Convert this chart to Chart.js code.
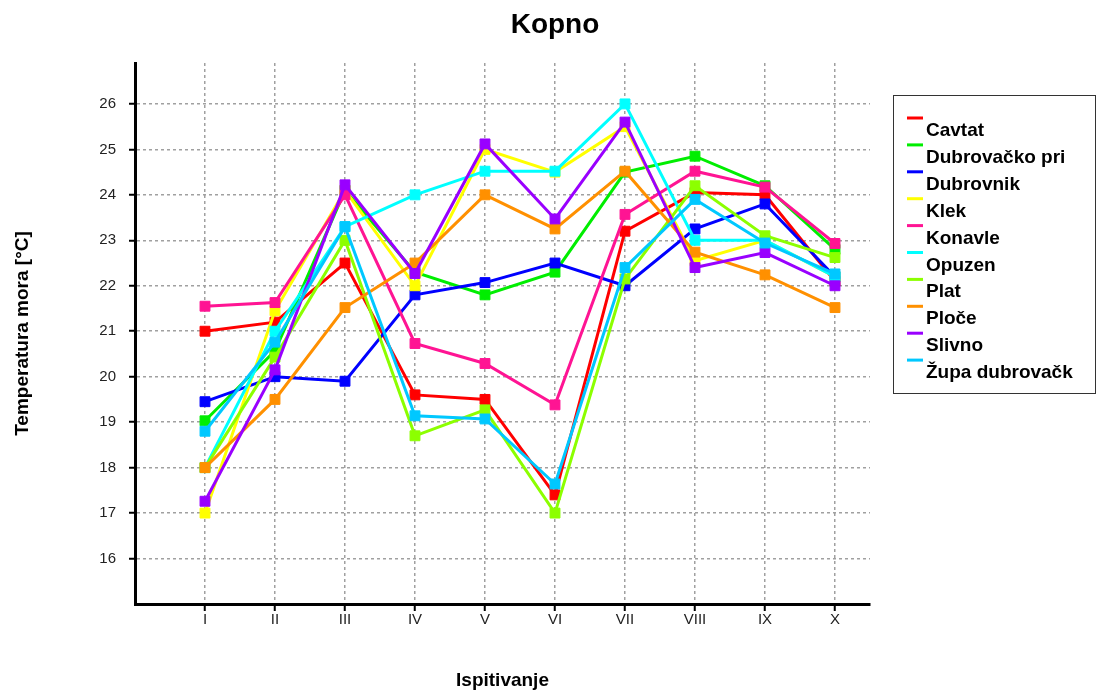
<!DOCTYPE html>
<html>
<head>
<meta charset="utf-8">
<script src="https://cdn.jsdelivr.net/npm/chart.js@4/dist/chart.umd.min.js"></script>
<style>
  html, body { margin: 0; padding: 0; background: #fff; }
  #wrap { width: 1097px; height: 690px; }
</style>
</head>
<body>
<div id="wrap"><canvas id="lineChart" width="1097" height="690"></canvas></div>
<script>
// ------------ data ------------
const categories = ['I', 'II', 'III', 'IV', 'V', 'VI', 'VII', 'VIII', 'IX', 'X'];
const yTicks = [16, 17, 18, 19, 20, 21, 22, 23, 24, 25, 26];

const cavtat     = [21.0, 21.2, 22.5, 19.6, 19.5, 17.4, 23.2, 24.05, 24.0, 22.1];
const dubPri     = [19.03, 20.57, 24.1, 22.3, 21.8, 22.3, 24.5, 24.85, 24.2, 22.8];
const dubrovnik  = [19.45, 20.0, 19.9, 21.8, 22.07, 22.5, 22.0, 23.25, 23.8, 22.2];
const klek       = [17.0, 21.45, 24.1, 22.0, 25.0, 24.5, 25.5, 22.55, 23.0, 22.2];
const konavle    = [21.55, 21.63, 24.0, 20.73, 20.29, 19.38, 23.57, 24.52, 24.17, 22.93];
const opuzen     = [18.0, 21.0, 23.3, 24.0, 24.52, 24.52, 26.0, 23.0, 23.0, 22.2];
const plat       = [18.0, 20.43, 23.0, 18.7, 19.27, 17.0, 22.15, 24.2, 23.1, 22.62];
const ploce      = [18.0, 19.5, 21.52, 22.5, 24.0, 23.25, 24.52, 22.74, 22.24, 21.52];
const slivno     = [17.26, 20.15, 24.22, 22.27, 25.12, 23.47, 25.6, 22.4, 22.73, 22.0];
const zupa       = [18.8, 20.76, 23.3, 19.14, 19.07, 17.64, 22.4, 23.9, 22.94, 22.26];

const series = [
  { label: 'Cavtat', data: cavtat, color: '#FF0000' },
  { label: 'Dubrovačko pri', data: dubPri, color: '#00EE00' },
  { label: 'Dubrovnik', data: dubrovnik, color: '#0000FF' },
  { label: 'Klek', data: klek, color: '#FFFF00' },
  { label: 'Konavle', data: konavle, color: '#FF1493' },
  { label: 'Opuzen', data: opuzen, color: '#00FFFF' },
  { label: 'Plat', data: plat, color: '#8CFF00' },
  { label: 'Ploče', data: ploce, color: '#FF9000' },
  { label: 'Slivno', data: slivno, color: '#9900FF' },
  { label: 'Župa dubrovačk', data: zupa, color: '#00C8FF' }
];

const chartTitle = 'Kopno';

// ------------ title + legend box ------------
const boxLegend = {
  id: 'boxLegend',
  afterDraw(chart) {
    const ctx = chart.ctx;
    ctx.save();
    // title, centred on the whole picture
    ctx.fillStyle = '#000';
    ctx.font = 'bold 28px "Liberation Sans", Arial, sans-serif';
    ctx.textAlign = 'center';
    ctx.textBaseline = 'middle';
    ctx.fillText(chartTitle, 555, 25);

    // legend
    ctx.textAlign = 'left';
    ctx.strokeStyle = '#333';
    ctx.lineWidth = 1;
    ctx.strokeRect(893.5, 95.5, 202, 298);
    ctx.font = 'bold 19px "Liberation Sans", Arial, sans-serif';
    ctx.textBaseline = 'alphabetic';
    chart.data.datasets.forEach((ds, i) => {
      const y = 118 + i * 26.9;
      ctx.strokeStyle = ds.borderColor;
      ctx.lineWidth = 3;
      ctx.beginPath();
      ctx.moveTo(907, y);
      ctx.lineTo(923, y);
      ctx.stroke();
      ctx.fillText(ds.label, 926, y + 18);
    });
    ctx.restore();
  }
};

document.addEventListener('DOMContentLoaded', () => {
  const ctx = document.getElementById('lineChart').getContext('2d');

  const datasets = series.map((s, i) => ({
    label: s.label,
    data: s.data.map((v, j) => ({ x: j, y: v })),
    borderColor: s.color,
    backgroundColor: s.color,
    borderWidth: 3,
    pointStyle: 'rect',
    pointRadius: 7,
    pointBorderWidth: 1,
    pointBorderColor: s.color,
    pointBackgroundColor: s.color,
    tension: 0,
    fill: false,
    order: series.length - i
  }));

  new Chart(ctx, {
    type: 'line',
    data: { datasets: datasets },
    plugins: [boxLegend],
    options: {
      responsive: false,
      animation: false,
      layout: { padding: { left: 0, right: 227, top: 63, bottom: 0 } },
      plugins: {
        legend: { display: false },
        tooltip: { enabled: false },
        title: { display: false }
      },
      scales: {
        x: {
          type: 'linear',
          min: -1,
          max: 9.5,
          afterFit: (s) => { s.height = 86; },
          afterBuildTicks: (s) => { s.ticks = categories.map((c, i) => ({ value: i })); },
          ticks: {
            callback: (v) => categories[v],
            color: '#222',
            font: { family: '"Liberation Sans", Arial, sans-serif', size: 15 },
            padding: 0,
            maxRotation: 0,
            autoSkip: false
          },
          grid: {
            color: '#A0A0A0',
            lineWidth: 1.5,
            tickColor: '#000',
            tickLength: 7,
            tickWidth: 2
          },
          border: { color: '#000', width: 3, dash: [3, 3] },
          title: {
            display: true,
            text: 'Ispitivanje',
            color: '#000',
            font: { family: '"Liberation Sans", Arial, sans-serif', size: 19, weight: 'bold', lineHeight: 1 },
            padding: { top: 0, bottom: 0 }
          }
        },
        y: {
          min: 15,
          max: 26.9,
          afterFit: (s) => { s.width = 135; },
          afterBuildTicks: (s) => { s.ticks = yTicks.map((v) => ({ value: v })); },
          ticks: {
            callback: (v) => String(v),
            color: '#222',
            font: { family: '"Liberation Sans", Arial, sans-serif', size: 15 },
            padding: 13
          },
          grid: {
            color: '#A0A0A0',
            lineWidth: 1.5,
            tickColor: '#000',
            tickLength: 6,
            tickWidth: 2
          },
          border: { color: '#000', width: 3, dash: [3, 3] },
          title: {
            display: true,
            text: 'Temperatura mora [°C]',
            color: '#000',
            font: { family: '"Liberation Sans", Arial, sans-serif', size: 19, weight: 'bold', lineHeight: 1 },
            padding: { top: 13, bottom: 0 }
          }
        }
      }
    }
  });
});
</script>
</body>
</html>
